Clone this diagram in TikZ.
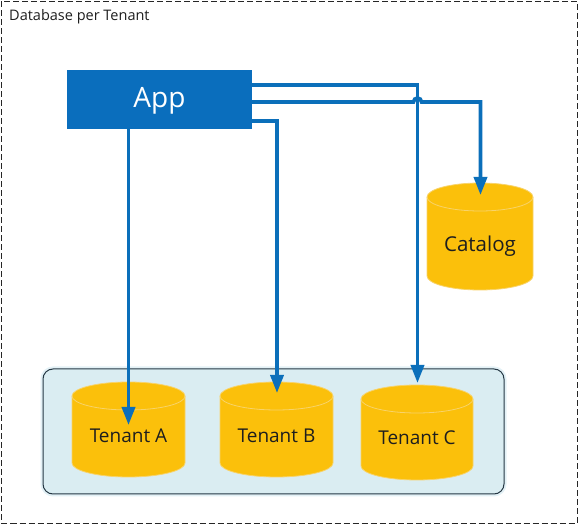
\documentclass[tikz,border=0pt]{standalone}
\usepackage{fontspec}
\setmainfont{Open Sans}
\usetikzlibrary{arrows.meta}
\definecolor{appblue}{HTML}{0A6EBD}
\definecolor{lineblue}{HTML}{0B6FBA}
\definecolor{cylfill}{HTML}{FBC00B}
\definecolor{cyledge}{HTML}{F8D36A}
\definecolor{boxfill}{HTML}{DAEDF2}
\definecolor{boxhalo}{HTML}{E3F1F6}
\definecolor{boxedge}{HTML}{263845}
\definecolor{txt}{HTML}{1E1E1E}
\newcommand\dbcyl[4]{%
  \pgfmathsetmacro\cyyt{#3+14}%
  \pgfmathsetmacro\cyyb{#4-14}%
  \pgfmathsetlengthmacro\cyrx{(#2-#1)/2*1pt}%
  \path[fill=cylfill,draw=cyledge,line width=0.8pt] (#1,\cyyt) -- (#1,\cyyb)
    arc[start angle=180,end angle=360,x radius=\cyrx,y radius=14pt]
    -- (#2,\cyyt)
    arc[start angle=0,end angle=180,x radius=\cyrx,y radius=14pt] -- cycle;
  \draw[cyledge,line width=0.8pt] (#1,\cyyt)
    arc[start angle=180,end angle=360,x radius=\cyrx,y radius=14pt];
}
\tikzset{
  conn/.style={draw=lineblue,line width=3.6pt,-{Triangle[length=18pt,width=13pt]}},
  cyltext/.style={anchor=base,text=txt,font=\fontsize{19}{22}\selectfont,inner sep=0pt},
}
\begin{document}
\begin{tikzpicture}[x=1pt,y=-1pt]
\useasboundingbox (0,0) rectangle (579,526);
% outer dashed frame
\draw[color=black!85,line width=1pt,dash pattern=on 6pt off 3pt] (1.5,1.5) rectangle (577,523.5);
\node[anchor=base west,text=txt,font=\fontsize{14.5}{17}\selectfont,inner sep=0pt] (title) at (9,21) {Database per Tenant};
% container
\draw[boxhalo,line width=5pt,rounded corners=10pt] (43,369) rectangle (504,494);
\draw[fill=boxfill,draw=boxedge,line width=1pt,rounded corners=10pt] (43,369) rectangle (504,494);
% cylinders
\dbcyl{72}{185}{382}{477}
\dbcyl{220}{333}{382}{477}
\dbcyl{361}{473}{385}{480}
\dbcyl{427}{533}{183}{290}
\node[cyltext] (tA) at (128.5,443) {Tenant A};
\node[cyltext] (tB) at (276.5,443) {Tenant B};
\node[cyltext] (tC) at (417,445) {Tenant C};
\node[cyltext,font=\fontsize{20.5}{24}\selectfont] (cat) at (480,252) {Catalog};
% app
\node[fill=appblue,minimum width=185pt,minimum height=59pt,inner sep=0pt] (app) at (159.5,99.5) {};
\node[anchor=base,text=white,font=\fontsize{28}{32}\selectfont,inner sep=0pt] (applabel) at (159.5,108) {App};
% endpoints
\coordinate (endA) at (128.5,425);
\coordinate (endB) at (277,393);
\coordinate (endC) at (417.5,383);
\coordinate (endCat) at (480.5,195);
\coordinate (hopL) at (413.5,102);
% connectors
\draw[conn] (app.south -| endA) -- (endA);
\draw[conn] ([yshift=-21.5pt]app.east) -| (endB);
\draw[conn] ([yshift=14.5pt]app.east) -| (endC);
\draw[conn] ([yshift=-2.5pt]app.east) -- (hopL)
  arc[start angle=180,end angle=0,radius=4pt] -| (endCat);
\end{tikzpicture}
\end{document}
